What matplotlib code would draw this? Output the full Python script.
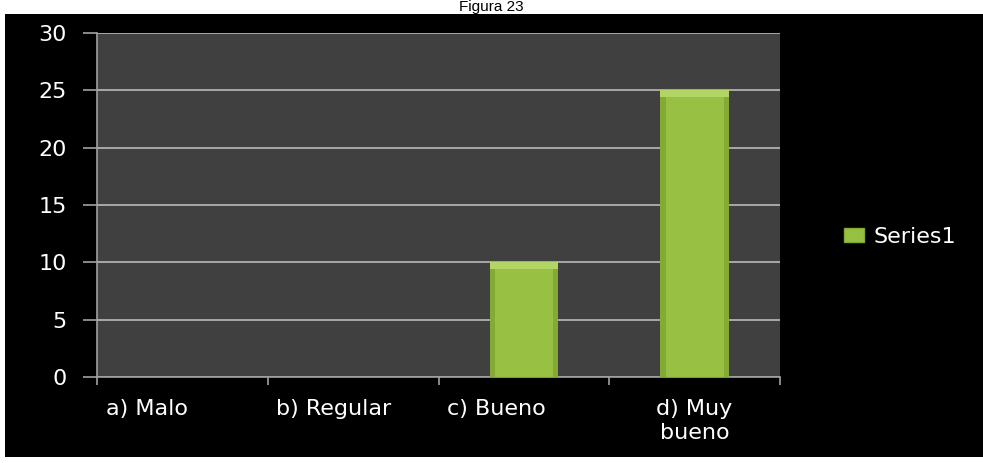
import matplotlib.pyplot as plt
import matplotlib.patches as mpatches
import matplotlib.transforms as mtransforms
import numpy as np

categorias = ['a) Malo', 'b) Regular', 'c) Bueno', 'd) Muy\nbueno']
valores = [0, 0, 10, 25]
serie = 'Series1'
yticks = [0, 5, 10, 15, 20, 25, 30]

plt.rcParams['font.family'] = ['DejaVu Sans']

fig = plt.figure(figsize=(9.83, 4.63), dpi=100, facecolor='white')
# black panel behind the chart
fig.patches.append(mpatches.Rectangle((5/983, 6/463), 1 - 5/983, 443/463,
                                      transform=fig.transFigure, facecolor='black',
                                      edgecolor='none', zorder=-5))
fig.text(0.5, 1 - 14/463, 'Figura 23', ha='center', va='bottom', fontsize=11,
         color='black', family=['Liberation Sans'])

ax = fig.add_axes([97/983, 1 - 377/463, (780 - 97)/983, (377 - 33)/463])
ax.set_zorder(2)
ax.set_facecolor('#404040')

x = np.arange(len(categorias))
ax.bar(x, valores, width=0.4, color='#98c043', linewidth=0, label=serie, zorder=3)
# darker sides and a light bevel on top, like the original 3-D look
v = np.array(valores, dtype=float)
ax.bar(x - 0.185, v, width=0.03, color='#84aa36', linewidth=0, zorder=4)
ax.bar(x + 0.185, v, width=0.03, color='#84aa36', linewidth=0, zorder=4)
ax.bar(x, np.where(v > 0, 0.6, 0), bottom=v - 0.6, width=0.4,
       color='#b2d566', linewidth=0, zorder=5)

ax.set_xlim(-0.5, len(categorias) - 0.5)
ax.set_ylim(0, 30)
ax.set_yticks(yticks)
ax.yaxis.grid(True, color='#a8a8a8', linewidth=1.4, zorder=1)
ax.set_axisbelow(True)
ax.set_xticks(np.arange(len(categorias) + 1) - 0.5)
ax.set_xticklabels([])
ax.tick_params(axis='x', length=6, width=1.2, color='#a0a0a0')
ax.tick_params(axis='y', length=10, width=1.2, color='#a0a0a0', labelsize=16,
               labelcolor='white', pad=12)

# category labels (left aligned like the original, last one centred)
trans = mtransforms.blended_transform_factory(ax.transData, ax.transAxes)
for i, lab in enumerate(categorias):
    if '\n' in lab:
        ax.text(i, -0.064, lab, transform=trans, ha='center', va='top',
                fontsize=16, color='white', linespacing=1.25)
    else:
        ax.text(i - 0.45, -0.064, lab, transform=trans, ha='left', va='top',
                fontsize=16, color='white')

for s in ['top', 'right']:
    ax.spines[s].set_visible(False)
for s in ['left', 'bottom']:
    ax.spines[s].set_color('#a0a0a0')
    ax.spines[s].set_linewidth(1.2)

handles = [mpatches.Patch(facecolor='#98c043', edgecolor='#84aa36', label=serie)]
fig.legend(handles=handles, loc='center left', bbox_to_anchor=(0.838, 1 - 237/463),
           frameon=False, fontsize=16, labelcolor='white', handlelength=0.9,
           handleheight=0.6, handletextpad=0.45)

fig.savefig('out.png', dpi=100, facecolor='white')
